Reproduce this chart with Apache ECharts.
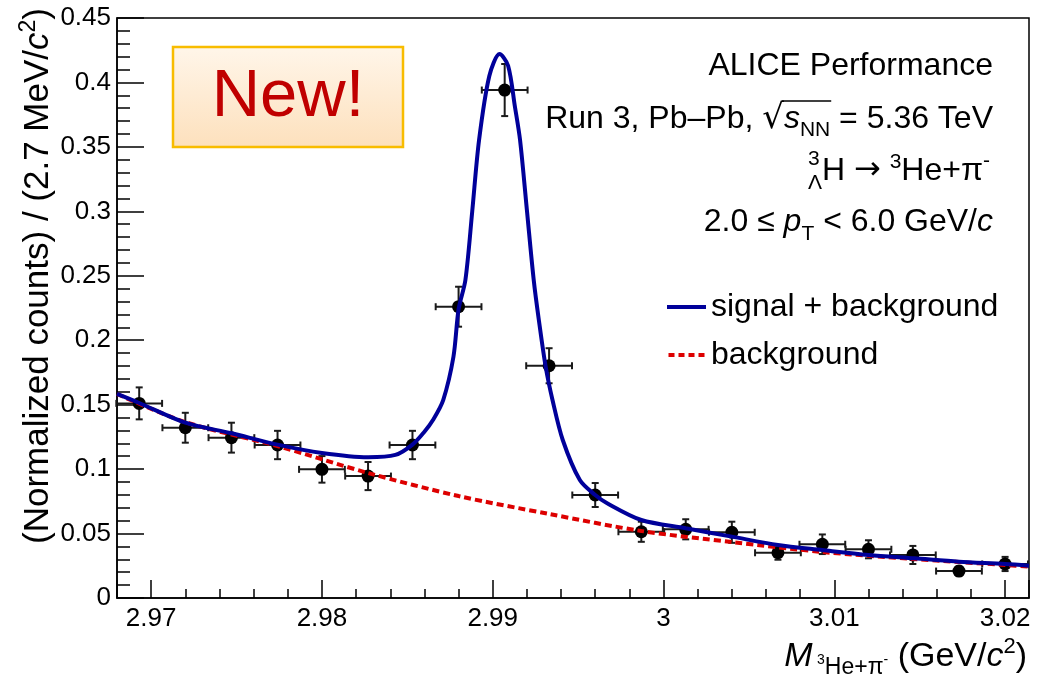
<!DOCTYPE html>
<html>
<head>
<meta charset="utf-8">
<script src="https://cdn.jsdelivr.net/npm/echarts@6/dist/echarts.min.js"></script>
<style>
html, body { margin: 0; padding: 0; background: #fff; }
#main { width: 1053px; height: 681px; }
</style>
</head>
<body>
<div id="main"></div>
<script>
// invariant mass bins (GeV/c^2), normalized counts and their errors
var massBins = [2.9693, 2.9720, 2.9747, 2.9774, 2.9800, 2.9827, 2.9853, 2.9880, 2.9907, 2.9933,
                2.9960, 2.9987, 3.0013, 3.0040, 3.0067, 3.0093, 3.0120, 3.0146, 3.0173, 3.0200];
var counts = [0.1510, 0.1321, 0.1244, 0.1187, 0.0998, 0.0946, 0.1187, 0.2260, 0.3941, 0.1802,
              0.0799, 0.0514, 0.0533, 0.0510, 0.0351, 0.0417, 0.0378, 0.0334, 0.0209, 0.0264];
var countErr = [0.0124, 0.0116, 0.0116, 0.0110, 0.0103, 0.0109, 0.0110, 0.0155, 0.0202, 0.0136,
                0.0093, 0.0078, 0.0078, 0.0082, 0.0054, 0.0076, 0.0070, 0.0070, 0.0035, 0.0055];
var halfBin = 0.00134;

// fit curve: signal + background
var fitX = [2.9680, 2.9693, 2.9720, 2.9747, 2.9774, 2.9800, 2.9827, 2.9843, 2.9853, 2.9860,
            2.9865, 2.9871, 2.9877, 2.9880, 2.9884, 2.9888, 2.9892, 2.9898, 2.9904, 2.9909,
            2.9913, 2.9916, 2.9920, 2.9924, 2.9927, 2.9931, 2.9935, 2.9941, 2.9951, 2.9960,
            2.9967, 2.9987, 3.0013, 3.0040, 3.0067, 3.0093, 3.0120, 3.0147, 3.0173, 3.0200, 3.0214];
var fitTotal = [0.1583, 0.1513, 0.1360, 0.1278, 0.1190, 0.1125, 0.1092, 0.1110, 0.1190, 0.1290,
                0.1381, 0.1536, 0.1872, 0.2240, 0.2467, 0.3000, 0.3553, 0.4050, 0.4220, 0.4130,
                0.3811, 0.3553, 0.3010, 0.2467, 0.2157, 0.1794, 0.1536, 0.1226, 0.0915, 0.0799,
                0.0735, 0.0605, 0.0541, 0.0476, 0.0411, 0.0372, 0.0334, 0.0308, 0.0282, 0.0264, 0.0251];

// fit curve: background only
var bkgX = [2.9680, 2.9720, 2.9774, 2.9827, 2.9880, 2.9933, 2.9987, 3.0040, 3.0093, 3.0146, 3.0200, 3.0214];
var bkgY = [0.1583, 0.1365, 0.1179, 0.0970, 0.0791, 0.0652, 0.0520, 0.0434, 0.0357, 0.0303, 0.0256, 0.0243];

var xMin = 2.968, xMax = 3.0214;
var yMin = 0, yMax = 0.45, yStep = 0.05;

var chart = echarts.init(document.getElementById('main'));

// text helpers (pieces laid out right-aligned on a baseline)
var cv = document.createElement('canvas').getContext('2d');
function fnt(p) {
  return (p.i ? 'italic ' : '') + p.s + 'px ' + (p.f || '"Liberation Sans", Arial, sans-serif');
}
function textRow(pieces, xEnd, base) {
  var w = pieces.map(function (p) {
    cv.font = fnt(p);
    p.w = cv.measureText(p.t).width;
    return p.over ? 0 : p.w;
  });
  var total = w.reduce(function (a, b) { return a + b; }, 0);
  var x = xEnd - total, out = [];
  pieces.forEach(function (p, k) {
    p.x0 = x;
    out.push({
      type: 'text', x: x, y: base + (p.dy || 0) - 0.34 * p.s,
      style: { text: p.t, font: fnt(p), fill: p.c || '#000', align: 'left', verticalAlign: 'middle' }
    });
    x += w[k];
  });
  return out;
}

var row2 = [{t: 'Run 3, Pb\u2013Pb, ', s: 32}, {t: '\u221A', s: 34, f: '"DejaVu Sans"', dy: 1}, {t: 's', s: 32, i: true},
            {t: 'NN', s: 21, dy: 7}, {t: ' = 5.36 TeV', s: 32}];
var graphics = [];
graphics = graphics.concat(textRow([{t: 'ALICE Performance', s: 32}], 993, 77));
graphics = graphics.concat(textRow(row2, 993, 130));
// overline of the square root
graphics.push({
  type: 'line',
  shape: {x1: row2[1].x0 + row2[1].w - 2, y1: 101, x2: row2[3].x0 + row2[3].w + 1, y2: 101},
  style: {stroke: '#000', lineWidth: 1.5}
});
graphics = graphics.concat(textRow([
  {t: '3', s: 21, dy: -16, over: true}, {t: '\u039B', s: 21, dy: 8}, {t: 'H ', s: 32},
  {t: '\u2192', s: 32, f: '"DejaVu Sans"'}, {t: ' ', s: 32},
  {t: '3', s: 21, dy: -13}, {t: 'He+\u03C0', s: 32}, {t: '-', s: 21, dy: -14}
], 990, 182));
graphics = graphics.concat(textRow([
  {t: '2.0 \u2264 ', s: 32}, {t: 'p', s: 32, i: true}, {t: 'T', s: 21, dy: 8},
  {t: ' < 6.0 GeV/', s: 32}, {t: 'c', s: 32, i: true}
], 993, 233));

// x axis title
graphics = graphics.concat(textRow([
  {t: 'M', s: 34, i: true}, {t: ' ', s: 16}, {t: '3', s: 14, dy: -3}, {t: 'He+\u03C0', s: 23, dy: 7},
  {t: '-', s: 14, dy: -3}, {t: ' (GeV/', s: 34}, {t: 'c', s: 34, i: true}, {t: '2', s: 22, dy: -14},
  {t: ')', s: 34}
], 1027, 668));

// y axis title (rotated)
graphics.push({
  type: 'group', x: 50, y: 8, rotation: Math.PI / 2,
  children: textRow([
    {t: '(Normalized counts) / (2.7 MeV/', s: 35}, {t: 'c', s: 35, i: true},
    {t: '2', s: 23, dy: -14}, {t: ')', s: 35}
  ], 0, 0)
});

// "New!" badge
graphics.push({
  type: 'rect', shape: {x: 173, y: 47, width: 230, height: 100},
  style: {
    fill: new echarts.graphic.LinearGradient(0, 0, 0, 1, [
      {offset: 0, color: '#fff6ea'}, {offset: 1, color: '#fde0bc'}
    ]),
    stroke: '#f8bc00', lineWidth: 2.5
  }
});
graphics.push({
  type: 'text', x: 288, y: 98,
  style: {text: 'New!', font: '67px "Liberation Sans", Arial, sans-serif', fill: '#c00000',
          align: 'center', verticalAlign: 'middle'}
});

function renderErr(params, api) {
  var x = api.value(0), y = api.value(1), e = api.value(2);
  var l = api.coord([x - halfBin, y]), r = api.coord([x + halfBin, y]);
  var t = api.coord([x, y + e]), b = api.coord([x, y - e]);
  var c = 3.5;
  var st = {stroke: '#1a1a1a', lineWidth: 2};
  function seg(x1, y1, x2, y2) {
    return {type: 'line', shape: {x1: x1, y1: y1, x2: x2, y2: y2}, style: st};
  }
  return {
    type: 'group',
    children: [
      seg(l[0], l[1], r[0], r[1]), seg(t[0], t[1], b[0], b[1]),
      seg(l[0], l[1] - c, l[0], l[1] + c), seg(r[0], r[1] - c, r[0], r[1] + c),
      seg(t[0] - c, t[1], t[0] + c, t[1]), seg(b[0] - c, b[1], b[0] + c, b[1])
    ]
  };
}

var tickStyle = {color: '#000', width: 1.5};
var labelFont = {color: '#000', fontSize: 26, fontFamily: '"Liberation Sans", Arial, sans-serif'};
var dashIcon = 'path://M0,0h6v4h-6z M10,0h6v4h-6z M20,0h6v4h-6z M30,0h6v4h-6z';

var option = {
  animation: false,
  backgroundColor: '#fff',
  grid: {
    left: 117, right: 24, top: 18, bottom: 83,
    show: true, borderColor: '#000', borderWidth: 1.5,
    containLabel: false, outerBoundsMode: 'none'
  },
  legend: {
    data: [{name: 'signal + background', icon: 'rect'}, {name: 'background', icon: dashIcon}],
    orient: 'vertical',
    left: 662, top: 286,
    itemWidth: 39, itemHeight: 4, itemGap: 16,
    textStyle: {color: '#000', fontSize: 32, fontFamily: '"Liberation Sans", Arial, sans-serif'}
  },
  xAxis: {
    type: 'value', min: xMin, max: xMax, splitNumber: 5,
    axisLine: {lineStyle: tickStyle},
    axisTick: {inside: true, length: 18, lineStyle: tickStyle},
    minorTick: {show: true, splitNumber: 5, length: 9, lineStyle: tickStyle},
    splitLine: {show: false},
    axisLabel: Object.assign({margin: 8, showMinLabel: false, showMaxLabel: false}, labelFont)
  },
  yAxis: {
    type: 'value', min: yMin, max: yMax, interval: yStep,
    axisLine: {lineStyle: tickStyle},
    axisTick: {inside: true, length: 27, lineStyle: tickStyle},
    minorTick: {show: true, splitNumber: 5, length: 13, lineStyle: tickStyle},
    splitLine: {show: false},
    axisLabel: Object.assign({margin: 6}, labelFont)
  },
  graphic: graphics,
  series: [
    {
      type: 'custom', name: 'data', renderItem: renderErr, z: 2,
      encode: {x: 0, y: 1},
      data: massBins.map(function (m, i) { return [m, counts[i], countErr[i]]; })
    },
    {
      type: 'scatter', name: 'points', z: 3, symbol: 'circle', symbolSize: 13,
      itemStyle: {color: '#000', opacity: 1},
      data: massBins.map(function (m, i) { return [m, counts[i]]; })
    },
    {
      type: 'line', name: 'background', z: 4, symbol: 'none', showSymbol: false, smooth: 0.3,
      lineStyle: {color: '#dd0000', width: 4, type: [7, 4]},
      itemStyle: {color: '#dd0000'},
      data: bkgX.map(function (m, i) { return [m, bkgY[i]]; })
    },
    {
      type: 'line', name: 'signal + background', z: 5, symbol: 'none', showSymbol: false, smooth: 0.3,
      lineStyle: {color: '#00009a', width: 4},
      itemStyle: {color: '#00009a'},
      data: fitX.map(function (m, i) { return [m, fitTotal[i]]; })
    }
  ]
};
chart.setOption(option);
</script>
</body>
</html>
